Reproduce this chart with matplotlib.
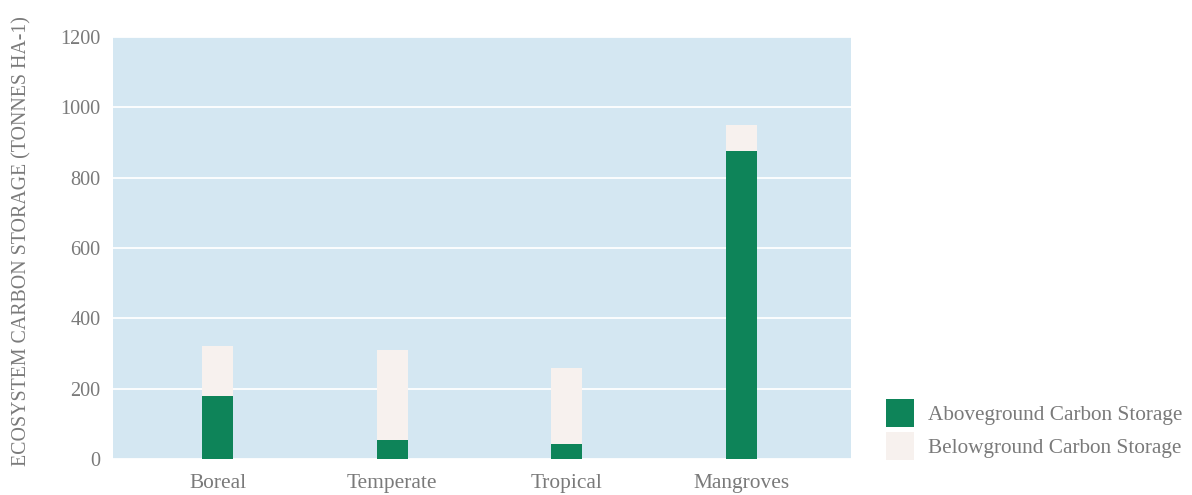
import matplotlib
matplotlib.use("Agg")
import matplotlib.pyplot as plt
import numpy as np

categories = ["Boreal", "Temperate", "Tropical", "Mangroves"]
aboveground = [179, 54, 43, 876]
belowground = [143, 256, 216, 74]
series_labels = ["Aboveground Carbon Storage", "Belowground Carbon Storage"]
yticks = [0, 200, 400, 600, 800, 1000, 1200]

GREEN = "#0e8459"
LIGHT = "#f7f1ee"
BG = "#d4e7f2"
TXT = "#7a7a7a"

plt.rcParams['font.family'] = ['Liberation Serif', 'DejaVu Serif']

fig = plt.figure(figsize=(11.92, 4.95), dpi=100)
ax = fig.add_axes([113/1192, 1 - 459/495, (851-113)/1192, (459-37)/495])
ax.set_facecolor(BG)

x = np.arange(len(categories))
w = 0.178
b1 = ax.bar(x, aboveground, width=w, color=GREEN, zorder=3, label=series_labels[0])
b2 = ax.bar(x, belowground, width=w, bottom=aboveground, color=LIGHT, zorder=3, label=series_labels[1])

ax.set_xlim(-0.599, 3.63)
ax.set_ylim(0, 1200)
ax.set_yticks(yticks)
ax.set_yticklabels([str(v) for v in yticks])
ax.set_xticks(x)
ax.set_xticklabels(categories)
ax.grid(axis='y', color='white', linewidth=1.3, zorder=1)
ax.set_axisbelow(True)
for s in ax.spines.values():
    s.set_visible(False)
ax.tick_params(axis='both', length=0, colors=TXT)
ax.tick_params(axis='y', pad=9, labelsize=14.6)
ax.tick_params(axis='x', pad=11, labelsize=15.4)
ax.set_ylabel("ECOSYSTEM CARBON STORAGE (TONNES HA-1)", color=TXT, fontsize=14.3)
ax.yaxis.set_label_coords(-0.111, 0.517)

leg = fig.legend(handles=[b1, b2], labels=series_labels, loc='lower left',
                 bbox_to_anchor=(886/1192, 1 - 460/495), frameon=False,
                 fontsize=15.3, handlelength=1.32, handleheight=1.64,
                 handletextpad=0.66, labelspacing=0.24, borderpad=0, borderaxespad=0)
for t in leg.get_texts():
    t.set_color(TXT)

fig.savefig("out.png", dpi=100)
